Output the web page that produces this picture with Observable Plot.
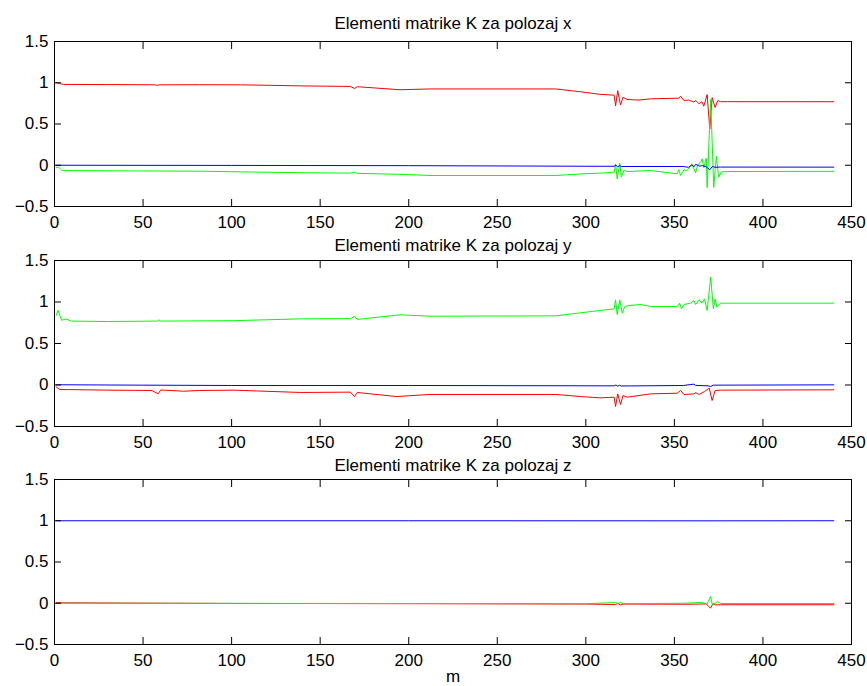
<!DOCTYPE html>
<html>
<head>
<meta charset="utf-8">
<script src="https://cdn.jsdelivr.net/npm/d3@7"></script>
<script src="https://cdn.jsdelivr.net/npm/@observablehq/plot@0.6"></script>
<style>
  html, body { margin: 0; padding: 0; background: #fff; }
  #chart svg { display: block; }
</style>
</head>
<body>
<div id="chart"></div>
<script>
// ---- tick labels and titles ----
const xTicks = [0, 50, 100, 150, 200, 250, 300, 350, 400, 450];
const yTicks = [-0.5, 0, 0.5, 1, 1.5];
const yTickLabels = ["\u22120.5", "0", "0.5", "1", "1.5"];
const titles = [
  "Elementi matrike K za polozaj x",
  "Elementi matrike K za polozaj y",
  "Elementi matrike K za polozaj z"
];
const xLabel = "m";

// ---- series: [m, value] pairs ----
// panel x
const kxRed = [[1,1.0],[3,0.99],[5,0.98],[30,0.978],[57,0.975],[58,0.965],[59,0.975],[82,0.976],[105,0.975],[139,0.962],[167,0.955],[169.5,0.93],[171,0.952],[195,0.915],[212,0.925],[283,0.925],[297,0.89],[308,0.86],[316,0.85],[316.8,0.72],[318,0.905],[319.6,0.73],[321,0.825],[323.3,0.797],[330,0.79],[336.5,0.805],[352.5,0.813],[353.5,0.837],[355.4,0.785],[358,0.79],[360,0.775],[361,0.765],[362,0.785],[364,0.745],[365.5,0.77],[366.6,0.716],[368.5,0.857],[370,0.44],[371.3,0.82],[373,0.70],[374.5,0.785],[376,0.77],[380,0.771],[440,0.77]];
const kxGreen = [[1,-0.03],[2,-0.02],[4,-0.06],[10,-0.065],[57,-0.07],[82,-0.072],[105,-0.08],[139,-0.09],[167,-0.096],[169.5,-0.085],[171,-0.098],[195,-0.11],[212,-0.124],[283,-0.124],[297,-0.105],[308,-0.096],[316,-0.084],[316.8,0.017],[317.7,-0.166],[319.2,0.025],[320,-0.145],[321.5,-0.064],[323.3,-0.076],[336.5,-0.064],[351.6,-0.104],[352.5,-0.052],[353.5,-0.124],[355.4,-0.056],[357,-0.064],[360,0.005],[361,-0.044],[362,-0.092],[363,-0.004],[365,0.045],[365.7,0.078],[366.6,-0.03],[368,0.086],[368.5,-0.27],[370.5,0.8],[372.2,-0.27],[373.7,0.11],[375,-0.145],[376.5,-0.08],[380,-0.076],[440,-0.074]];
const kxBlue = [[1,0.0],[100,-0.002],[200,-0.005],[300,-0.012],[316,-0.012],[317,0.0],[318,-0.02],[319,-0.005],[320,-0.015],[355,-0.015],[358,-0.025],[360,0.01],[361,-0.02],[362,0.012],[364,-0.01],[366,-0.005],[368,-0.02],[370,-0.055],[371.5,-0.015],[373,-0.025],[376,-0.022],[440,-0.023]];
// panel y
const kyRed = [[1,-0.024],[3,-0.055],[8,-0.055],[30,-0.062],[55,-0.066],[58.5,-0.106],[60,-0.06],[73,-0.075],[82,-0.066],[101,-0.062],[139,-0.09],[167,-0.086],[169.4,-0.139],[171,-0.09],[193,-0.139],[212,-0.114],[283,-0.114],[297,-0.139],[308,-0.155],[316,-0.147],[316.8,-0.259],[318,-0.107],[319.6,-0.235],[321,-0.127],[323.3,-0.147],[336.5,-0.107],[351.6,-0.099],[353.5,-0.066],[355.4,-0.115],[361,-0.107],[362,-0.091],[364,-0.115],[367,-0.078],[369.7,-0.038],[371.3,-0.187],[373,-0.066],[376,-0.062],[440,-0.058]];
const kyGreen = [[1,0.84],[2,0.9],[4,0.78],[6.5,0.795],[9.5,0.77],[30,0.765],[58,0.77],[59,0.785],[60,0.77],[101,0.775],[139,0.797],[167,0.8],[169.4,0.825],[171,0.79],[195,0.846],[212,0.829],[283,0.833],[297,0.87],[308,0.898],[316,0.918],[316.8,1.026],[317.7,0.849],[319.2,1.026],[320.5,0.866],[322,0.946],[324.4,0.958],[331,0.97],[336.5,0.946],[351.6,0.946],[353,0.986],[354,0.918],[355.4,0.97],[359,0.986],[361,1.018],[362,0.97],[364,1.026],[365.5,0.986],[367,1.038],[368.5,0.898],[370.5,1.30],[372,0.918],[373,1.038],[374,0.938],[376,0.986],[440,0.986]];
const kyBlue = [[1,0.003],[50,-0.002],[100,-0.006],[200,-0.006],[316,-0.01],[317,0.0],[318,-0.015],[319,-0.003],[320,-0.012],[355,-0.006],[361,0.01],[362,-0.005],[369,-0.01],[370.5,-0.018],[372,-0.002],[440,0.002]];
// panel z
const kzRed = [[1,0.01],[5,0.005],[100,-0.002],[200,-0.005],[300,-0.01],[316.8,-0.015],[318,0.0],[319.5,-0.02],[321,-0.01],[360,-0.012],[368,-0.008],[370.4,-0.06],[371.8,-0.005],[373,-0.02],[376,-0.018],[440,-0.018]];
const kzGreen = [[1,0.0],[100,-0.002],[200,-0.003],[300,-0.005],[316.8,0.008],[318,-0.005],[319.5,0.01],[321,-0.005],[355,0.0],[360,0.005],[365,0.01],[368.5,-0.01],[370.4,0.083],[371.5,-0.02],[373,0.0],[374.5,0.02],[376,-0.003],[440,-0.003]];
const kzBlue = [[1,1.0],[200,1.0],[370,0.999],[440,1.0]];

const FONT = "'Liberation Sans', Arial, Helvetica, sans-serif";
const FS = 17;

function panel(title, red, green, blue, height, marginTop, marginBottom, titleDy, withLabel) {
  const marks = [
    Plot.line(red,   {x: d => d[0], y: d => d[1], stroke: "#ff0000", strokeWidth: 1}),
    Plot.line(green, {x: d => d[0], y: d => d[1], stroke: "#00ff00", strokeWidth: 1}),
    Plot.line(blue,  {x: d => d[0], y: d => d[1], stroke: "#0000ff", strokeWidth: 1}),
    Plot.frame({stroke: "black", strokeWidth: 1}),
    Plot.axisX(xTicks, {anchor: "bottom", tickSize: -7, tickPadding: 16, label: null, tickFormat: d => String(d), fontSize: FS, fill: "black", stroke: "black"}),
    Plot.axisX(xTicks, {anchor: "top", tickSize: -7, label: null, tickFormat: () => "", stroke: "black"}),
    Plot.axisY(yTicks, {anchor: "left", tickSize: -7, tickPadding: 13, label: null, tickFormat: d => yTickLabels[yTicks.indexOf(d)], fontSize: FS, fill: "black", stroke: "black"}),
    Plot.axisY(yTicks, {anchor: "right", tickSize: -7, label: null, tickFormat: () => "", stroke: "black"}),
    Plot.text([title], {frameAnchor: "top", dy: titleDy, text: d => d, fontSize: FS, fill: "black"})
  ];
  if (withLabel) marks.push(Plot.text([xLabel], {frameAnchor: "bottom", dy: 37, text: d => d, fontSize: FS, fill: "black"}));
  return Plot.plot({
    width: 867, height,
    marginLeft: 54, marginRight: 16, marginTop, marginBottom,
    style: {fontFamily: FONT, fontSize: FS + "px", background: "white", color: "black", overflow: "visible"},
    x: {domain: [0, 450]},
    y: {domain: [-0.5, 1.5]},
    marks
  });
}

const root = document.getElementById("chart");
root.append(panel(titles[0], kxRed, kxGreen, kxBlue, 228, 41, 22, -25, false));
root.append(panel(titles[1], kyRed, kyGreen, kyBlue, 220, 32, 22, -22, false));
root.append(panel(titles[2], kzRed, kzGreen, kzBlue, 238, 31, 42, -21, true));
</script>
</body>
</html>
